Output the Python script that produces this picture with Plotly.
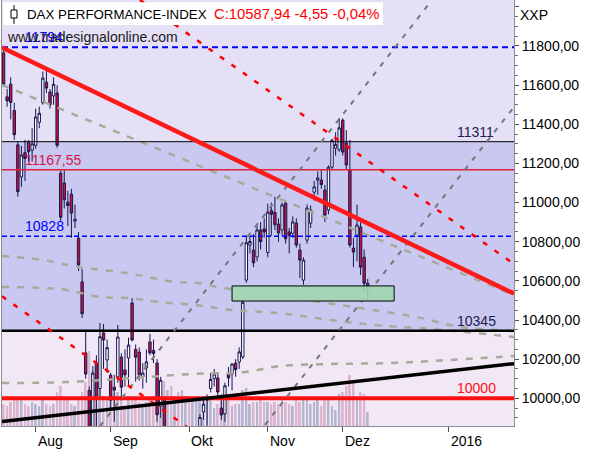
import plotly.graph_objects as go

# ---------------- data ----------------
first_bar = -9          # bar index of 21 Jul 2015 (0 = 3 Aug 2015)

opens = [11765, 11540, 11605, 11470, 11295, 11131, 11255, 11310, 11268,
         11293, 11410, 11510, 11615, 11565, 11545, 11560, 11150, 11100, 11002,
         11043, 10905, 10818, 10595, 10232, 10040, 9650, 10180, 10050, 10334, 10196,
         10118, 10057, 10109, 10211, 10145, 10206, 10487, 10250, 10236, 10109,
         10155, 10288, 10245, 10180, 9960, 10000, 9580, 9560, 9500, 9650, 9450, 9520,
         9670, 9530, 9600, 9830, 9930, 9990, 10050, 10100, 10104, 9950, 9920,
         10129, 10124, 10180, 10185, 10211, 10604, 10783, 10757, 10722, 10860, 10865,
         10745, 10960, 10950, 10890, 10860, 10997, 10850, 10843, 10895, 10757,
         10604, 10808, 10895, 11053, 11115, 11115, 11064, 10962, 11181, 11278, 11270,
         11421, 11304, 11167, 10767, 10834, 10875, 10721, 10575]
highs = [11790, 11580, 11640, 11510, 11310, 11290, 11320, 11320, 11380,
         11480, 11490, 11670, 11690, 11580, 11640, 11600, 11165, 11165, 11060,
         11070, 10990, 10850, 10660, 10350, 10060, 10165, 10220, 10385, 10380, 10300,
         10130, 10120, 10375, 10230, 10250, 10310, 10512, 10275, 10260, 10180,
         10250, 10330, 10300, 10200, 10110, 10010, 9680, 9600, 9730, 9700, 9520, 9700,
         9700, 9590, 9830, 9920, 10010, 10020, 10130, 10150, 10130, 10020, 10080,
         10160, 10180, 10200, 10260, 10502, 10824, 10830, 10840, 10880, 10900, 10920,
         10995, 11000, 11030, 10920, 11000, 11010, 10870, 10930, 10920, 10790,
         10720, 10990, 10985, 11110, 11160, 11170, 11090, 11190, 11325, 11360, 11432,
         11430, 11370, 11320, 10820, 10990, 10900, 10760, 10610]
lows = [11590, 11490, 11425, 11320, 11030, 11080, 11110, 11210, 11210,
        11275, 11380, 11500, 11560, 11480, 11500, 11280, 10900, 10970, 10880,
        10820, 10870, 10650, 10410, 10100, 9338, 9600, 9780, 10000, 10150, 10130,
        9950, 9880, 10080, 9990, 10060, 10068, 10290, 10085, 10090, 10050,
        10080, 10220, 10180, 9880, 9900, 9540, 9480, 9340, 9480, 9440, 9325, 9490,
        9480, 9340, 9590, 9790, 9890, 9860, 10030, 10060, 9990, 9890, 9880,
        10060, 10040, 10110, 10150, 10200, 10590, 10740, 10670, 10700, 10760, 10820,
        10720, 10830, 10860, 10800, 10830, 10790, 10740, 10820, 10770, 10614,
        10580, 10790, 10870, 11010, 11040, 11070, 10900, 10940, 11170, 11240, 11260,
        11240, 11170, 10770, 10670, 10700, 10630, 10550, 10500]
closes = [11604, 11520, 11512, 11347, 11056, 11243, 11225, 11260, 11300,
          11437, 11456, 11636, 11585, 11500, 11604, 11293, 10925, 11014, 10985,
          10946, 10915, 10682, 10432, 10124, 9648, 10128, 9997, 10315, 10298, 10259,
          9990, 10042, 10313, 10057, 10120, 10272, 10298, 10210, 10119, 10129,
          10186, 10232, 10229, 9916, 10092, 9570, 9612, 9428, 9688, 9483, 9450, 9660,
          9509, 9553, 9814, 9902, 9970, 9993, 10096, 10124, 10032, 9915, 10064,
          10104, 10175, 10147, 10237, 10491, 10795, 10801, 10692, 10860, 10801, 10850,
          10951, 10940, 10887, 10845, 10988, 10815, 10833, 10901, 10783, 10706,
          10706, 10972, 10962, 11080, 11126, 11092, 10936, 11181, 11319, 11296, 11382,
          11258, 11192, 10783, 10747, 10885, 10670, 10588, 10587.94]
volumes = [22, 20, 24, 26, 30, 28, 22, 20, 24,
           22, 20, 26, 22, 20, 22, 34, 40, 30, 26,
           22, 20, 26, 34, 44, 75, 55, 50, 42, 30, 28,
           40, 32, 34, 30, 20, 26, 28, 26, 24, 22,
           24, 26, 30, 52, 34, 45, 36, 40, 30, 34, 36, 30,
           30, 28, 30, 26, 30, 26, 28, 18, 22, 26, 28,
           26, 20, 22, 22, 36, 38, 22, 24, 24, 26, 24,
           24, 22, 24, 22, 26, 24, 22, 20, 26, 24,
           26, 28, 22, 24, 26, 20, 26, 28, 20, 16, 32,
           34, 40, 51, 44, 28, 34, 32, 14]

month_labels = ["Aug", "Sep", "Okt", "Nov", "Dez", "2016"]
month_ticks = [0, 21, 43, 65, 86, 115.7]

level_values = [11794, 11311, 11167.55, 10828, 10345, 10000]
level_labels = ["11794", "11311", "11167,55", "10828", "10345", "10000"]

# trend lines: (bar index, price) pairs
red_trend_x, red_trend_y = [-9.44, 133.97], [11792, 10535]
black_trend_x, black_trend_y = [-9.44, 133.97], [9881, 10177]
red_dash_up_x, red_dash_up_y = [29.2, 133.97], [12035, 10686]
red_dash_lo_x, red_dash_lo_y = [-9.44, 133.97], [10521, 8674]
gray_steep_up_x, gray_steep_up_y = [18.0, 111.0], [9858, 12035]
gray_steep_lo_x, gray_steep_lo_y = [64.2, 133.97], [9864, 11488]
gray_line_x, gray_line_y = [-9.44, 133.97], [11601, 10528]

curve_a_x = [-9.44, 2.0, 11.6, 25.6, 39.0, 45.5, 50.8, 68.4, 85.2, 94.5, 106.8, 118.9, 133.97]
curve_a_y = [10727, 10707, 10671, 10640, 10594, 10589, 10569, 10523, 10477, 10451, 10415, 10364, 10344]
curve_b_x = [-9.44, 2.0, 8.8, 18.0, 26.4, 34.3, 44.6, 55.0, 67.6, 76.8, 87.2, 98.4, 107.6, 120.3, 133.97]
curve_b_y = [10569, 10564, 10553, 10518, 10512, 10492, 10477, 10451, 10436, 10415, 10390, 10369, 10359, 10339, 10313]
curve_c_x = [-9.44, 8.8, 27.3, 43.8, 58.6, 68.4, 82.4, 99.2, 116.1, 133.97]
curve_c_y = [10078, 10083, 10104, 10124, 10134, 10165, 10175, 10180, 10196, 10216]

zone_x = [55.0, 100.4]
zone_y = [10497, 10574]

band_edges = [10345, 11311]

# ---------------- figure ----------------
X_RANGE = [-9.44, 133.97]
Y_RANGE = [9858.5, 12034.9]
FONT = "Liberation Sans"

x_idx = list(range(first_bar, first_bar + len(closes)))
vol_colors = ["#b3b3cf" if c >= o else "#dab3cb" for o, c in zip(opens, closes)]

fig = go.Figure()

fig.add_trace(go.Bar(x=x_idx, y=volumes, width=0.55, yaxis="y",
                     marker=dict(color=vol_colors, line_width=0), opacity=0.95,
                     hoverinfo="skip"))

level_styles = [
    dict(color="#0000ff", width=2, dash="6px,4px"),
    dict(color="#000000", width=1),
    dict(color="#e0203c", width=1.3),
    dict(color="#0000ff", width=1.3, dash="5px,3px"),
    dict(color="#000000", width=2.5),
    dict(color="#ff1010", width=4),
]

gray_curve = dict(color="#a9a99c", width=2.5, dash="7px,8px")
for cx, cy in [(curve_a_x, curve_a_y), (curve_b_x, curve_b_y), (curve_c_x, curve_c_y)]:
    fig.add_trace(go.Scatter(x=cx, y=cy, mode="lines", yaxis="y2", line=gray_curve,
                             line_shape="spline", hoverinfo="skip"))
fig.add_trace(go.Scatter(x=gray_line_x, y=gray_line_y, mode="lines", yaxis="y2",
                         line=gray_curve, hoverinfo="skip"))

for v, st in zip(level_values, level_styles):
    fig.add_trace(go.Scatter(x=X_RANGE, y=[v, v], mode="lines", yaxis="y2", line=st,
                             hoverinfo="skip"))

steep = dict(color="#767676", width=2, dash="5px,7px")
fig.add_trace(go.Scatter(x=gray_steep_up_x, y=gray_steep_up_y, mode="lines", yaxis="y2",
                         line=steep, hoverinfo="skip"))
fig.add_trace(go.Scatter(x=gray_steep_lo_x, y=gray_steep_lo_y, mode="lines", yaxis="y2",
                         line=steep, hoverinfo="skip"))
red_dash = dict(color="#ff0000", width=2.5, dash="5px,9px")
fig.add_trace(go.Scatter(x=red_dash_up_x, y=red_dash_up_y, mode="lines", yaxis="y2",
                         line=red_dash, hoverinfo="skip"))
fig.add_trace(go.Scatter(x=red_dash_lo_x, y=red_dash_lo_y, mode="lines", yaxis="y2",
                         line=red_dash, hoverinfo="skip"))

fig.add_trace(go.Scatter(x=[zone_x[0], zone_x[1], zone_x[1], zone_x[0], zone_x[0]],
                         y=[zone_y[0], zone_y[0], zone_y[1], zone_y[1], zone_y[0]],
                         mode="lines", fill="toself", fillcolor="rgba(160,214,176,0.9)",
                         line=dict(color="#000000", width=1), yaxis="y2", hoverinfo="skip"))

fig.add_trace(go.Candlestick(x=x_idx, open=opens, high=highs, low=lows, close=closes,
                             yaxis="y2", whiskerwidth=0,
                             increasing=dict(line=dict(color="#161650", width=1), fillcolor="#ffffff"),
                             decreasing=dict(line=dict(color="#161650", width=1), fillcolor="#d0103c")))

fig.add_trace(go.Scatter(x=black_trend_x, y=black_trend_y, mode="lines", yaxis="y2",
                         line=dict(color="#000000", width=3.5), hoverinfo="skip"))
fig.add_trace(go.Scatter(x=red_trend_x, y=red_trend_y, mode="lines", yaxis="y2",
                         line=dict(color="#ff1a1a", width=4.5), hoverinfo="skip"))

# background bands
shapes = [
    dict(type="rect", xref="paper", yref="y2", x0=0, x1=1, y0=band_edges[0], y1=band_edges[1],
         fillcolor="#c8c8f0", line_width=0, layer="below"),
    dict(type="rect", xref="paper", yref="y2", x0=0, x1=1, y0=Y_RANGE[0], y1=band_edges[0],
         fillcolor="#f1e7f5", line_width=0, layer="below"),
    # header box and icon
    dict(type="rect", xref="paper", yref="paper", x0=0.002, x1=0.744, y0=0.9413, y1=0.995,
         fillcolor="#ffffff", line_width=0, layer="above"),
    dict(type="line", xref="paper", yref="paper", x0=0.0234, x1=0.0234, y0=0.944, y1=0.988,
         line=dict(color="#000000", width=1), layer="above"),
    dict(type="rect", xref="paper", yref="paper", x0=0.0176, x1=0.0293, y0=0.9577, y1=0.9765,
         fillcolor="#ffffff", line=dict(color="#000000", width=1), layer="above"),
]

ann = []
label_pos = [(-3.56, "#0000ff"), (117.45, "#1c1c50"), (-3.56, "#d0184a"),
             (-3.56, "#0000ff"), (117.45, "#1c1c50"), (117.45, "#ff1010")]
for v, t, (lx, col) in zip(level_values, level_labels, label_pos):
    ann.append(dict(x=lx, y=v, xref="x", yref="y2", text=t, showarrow=False,
                    xanchor="left", yanchor="bottom", font=dict(family=FONT, size=14, color=col)))
ann.append(dict(x=0.0059, y=0.9143, xref="paper", yref="paper", text="www.tradesignalonline.com",
                showarrow=False, xanchor="left", yanchor="middle",
                font=dict(family=FONT, size=14, color="#1a1a1a")))
ann.append(dict(x=0.0449, y=0.967, xref="paper", yref="paper", text="DAX PERFORMANCE-INDEX",
                showarrow=False, xanchor="left", yanchor="middle",
                font=dict(family=FONT, size=13.3, color="#000000")))
ann.append(dict(x=0.4102, y=0.967, xref="paper", yref="paper", text="C:10587,94 -4,55 -0,04%",
                showarrow=False, xanchor="left", yanchor="middle",
                font=dict(family=FONT, size=14.8, color="#ff0000")))
ann.append(dict(x=1.0078, y=0.9648, xref="paper", yref="paper", text="XXP",
                showarrow=False, xanchor="left", yanchor="middle",
                font=dict(family=FONT, size=14, color="#000000")))
for mx, ml in zip(month_ticks, month_labels):
    ann.append(dict(x=mx, y=-0.0117, xref="x", yref="paper", text=ml, showarrow=False,
                    xanchor="left", yanchor="top", font=dict(family=FONT, size=14, color="#000000")))

fig.update_layout(
    width=595, height=450,
    margin=dict(l=2, r=81, t=0, b=24),
    paper_bgcolor="#ffffff", plot_bgcolor="#e5e0f6",
    showlegend=False, separators=",.",
    boxgap=0.05,
    shapes=shapes, annotations=ann,
    xaxis=dict(range=X_RANGE, showgrid=False, zeroline=False, tickmode="array",
               tickvals=month_ticks, ticks="outside", ticklen=5, tickcolor="#505050",
               showticklabels=False, showline=True, linecolor="#8c8c8c", mirror=True,
               rangeslider=dict(visible=False), fixedrange=True),
    yaxis=dict(range=[0, 426], visible=False, fixedrange=True),
    yaxis2=dict(overlaying="y", side="right", range=Y_RANGE, showgrid=False, zeroline=False,
                tick0=10000, dtick=200, tickformat=".2f", ticks="outside", ticklen=4,
                tickcolor="#505050", showline=True, linecolor="#8c8c8c", mirror=True,
                minor=dict(dtick=50, ticks="outside", ticklen=3, tickcolor="#707070"),
                tickfont=dict(family=FONT, size=14, color="#000000"), fixedrange=True),
)

fig.write_html("out.html", config={"displayModeBar": False},
               post_script="document.body.style.margin='0';document.body.style.overflow='hidden';")
